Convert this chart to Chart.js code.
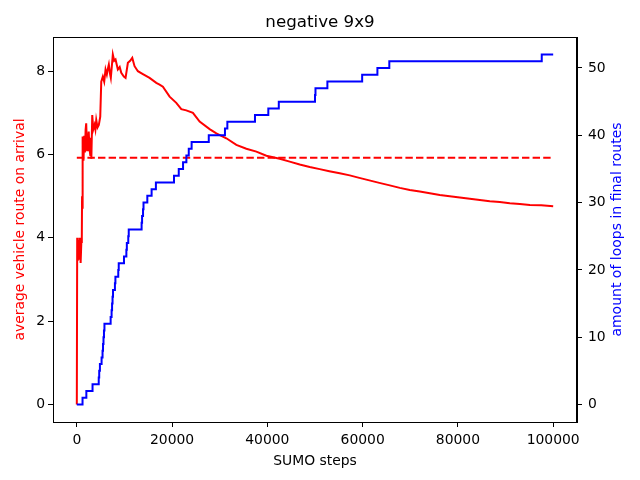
<!DOCTYPE html>
<html>
<head>
<meta charset="utf-8">
<script src="https://cdn.jsdelivr.net/npm/chart.js@4"></script>
<style>
  html, body { margin: 0; padding: 0; background: #fff; }
</style>
</head>
<body>
<canvas id="chart" width="640" height="480"></canvas>
<script>
// red series: average route length on arrival
const redSteps = [0, 80, 200, 350, 500, 650, 800, 950, 1050, 1100, 1180, 1260, 1400, 1550, 1700, 1850, 1970, 2150, 2310, 2500,
    2650, 2820, 2950, 3050, 3240, 3450, 3720, 3900, 4080, 4350, 4620, 4920, 5130, 5460, 5750, 6030, 6300, 6500, 6720, 6950,
    7140, 7560, 7850, 8130, 8610, 9000, 9330, 9870, 10230, 10720, 11200, 11640, 12120, 12820, 13870, 15270, 16680, 17370,
    18070, 19480, 20880, 21930, 22980, 24370, 25780, 27880, 29290, 31390, 33490, 35590, 37690, 39790, 42590, 44690,
    46790, 48890, 50990, 53000, 55190, 57300, 59300, 61400, 63500, 65700, 67800, 69900, 72000, 74100, 76200, 78300, 80400,
    82500, 84600, 86700, 88800, 90900, 93000, 95100, 97500, 100000]
const redValues = [0, 4.0, 3.45, 3.95, 3.5, 4.0, 3.4, 3.9, 4.0, 5.0, 4.7, 6.43, 5.85, 6.45, 6.05, 6.6, 6.75, 6.1, 6.3, 6.55,
    6.15, 5.99, 6.4, 5.9, 6.95, 6.6, 6.71, 6.6, 6.83, 6.65, 6.71, 6.91, 7.75, 7.87, 7.75, 8.04, 7.92, 8.05, 8.16, 7.95,
    7.84, 8.4, 8.25, 8.28, 8.04, 8.1, 7.96, 7.87, 7.84, 8.2, 8.25, 8.32, 8.12, 8.0, 7.93, 7.84, 7.72, 7.68,
    7.63, 7.39, 7.24, 7.09, 7.06, 7.0, 6.79, 6.61, 6.51, 6.39, 6.23, 6.14, 6.07, 5.97, 5.9, 5.83,
    5.76, 5.7, 5.65, 5.6, 5.55, 5.5, 5.44, 5.38, 5.32, 5.26, 5.2, 5.15, 5.11, 5.07, 5.03, 5.0, 4.97,
    4.94, 4.91, 4.88, 4.86, 4.83, 4.81, 4.79, 4.78, 4.76]

// dashed reference level
const meanSteps = [0, 100000]
const meanValues = [5.92, 5.92]

// blue series: loops in final routes (step changes)
const loopSteps = [0, 1200, 2000, 3300, 4600, 4700, 4850, 5200, 5400, 5500, 5600, 5700, 5800, 7100, 7300, 7400, 7500, 7600,
    8000, 8100, 8700, 8800, 9900, 10400, 10500, 10800, 10900, 13600, 13700, 13900, 14000, 14800, 15700, 16600, 20400, 21400,
    22300, 23000, 23500, 24100, 27700, 31100, 31600, 37400, 40200, 42400, 50000, 50100, 52600, 59900, 63100, 65600, 97600, 100000]
const loopCounts = [0, 1, 2, 3, 4, 5, 6, 7, 8, 9, 10, 11, 12, 13, 14, 15, 16, 17,
    18, 19, 20, 21, 22, 23, 24, 25, 26, 27, 28, 29, 30, 31, 32, 33, 34, 35,
    36, 37, 38, 39, 40, 41, 42, 43, 44, 45, 46, 47, 48, 49, 50, 51, 52, 52]

const xTicks = [0, 20000, 40000, 60000, 80000, 100000]
const leftTicks = [0, 2, 4, 6, 8]
const rightTicks = [0, 10, 20, 30, 40, 50]

function pairs(xs, ys) {
    return xs.map((x, i) => ({ x: x, y: ys[i] }))
}

function fixTicks(list) {
    return function (scale) {
        scale.ticks = list.map(v => ({ value: v }))
    }
}

Chart.defaults.font.family = 'DejaVu Sans'
Chart.defaults.color = '#000'

const frame = {
    id: 'frame',
    afterDraw(chart) {
        const ctx = chart.ctx
        const a = chart.chartArea
        ctx.save()
        ctx.strokeStyle = '#000'
        ctx.lineWidth = 1
        ctx.strokeRect(Math.round(a.left) + 0.5, Math.round(a.top) + 0.5,
            Math.round(a.right - a.left) - 1, Math.round(a.bottom - a.top))
        // right axis label, reading bottom to top like the left one
        ctx.translate(617, (a.top + a.bottom) / 2)
        ctx.rotate(-Math.PI / 2)
        ctx.fillStyle = '#0000ff'
        ctx.font = '14px "DejaVu Sans"'
        ctx.textAlign = 'center'
        ctx.textBaseline = 'middle'
        ctx.fillText('amount of loops in final routes', 0, 0)
        ctx.restore()
    }
}

const tickGrid = { drawOnChartArea: false, drawTicks: true, tickLength: 5, tickColor: '#000', tickWidth: 1 }

new Chart(document.getElementById('chart'), {
    type: 'line',
    data: {
        datasets: [
            {
                label: 'loops',
                data: pairs(loopSteps, loopCounts),
                yAxisID: 'y1',
                borderColor: '#0000ff',
                borderWidth: 2,
                stepped: 'before',
                pointRadius: 0,
                fill: false,
                order: 0
            },
            {
                label: 'mean',
                data: pairs(meanSteps, meanValues),
                yAxisID: 'y',
                borderColor: '#ff0000',
                borderWidth: 2,
                borderDash: [7.4, 3.2],
                pointRadius: 0,
                fill: false,
                order: 1
            },
            {
                label: 'route',
                data: pairs(redSteps, redValues),
                yAxisID: 'y',
                borderColor: '#ff0000',
                borderWidth: 2,
                pointRadius: 0,
                tension: 0,
                fill: false,
                order: 2
            }
        ]
    },
    options: {
        responsive: false,
        animation: false,
        devicePixelRatio: 1,
        layout: { padding: 0 },
        plugins: {
            legend: { display: false },
            tooltip: { enabled: false },
            title: {
                display: true,
                text: 'negative 9x9',
                color: '#000',
                font: { size: 16.7, weight: 'normal' },
                padding: { top: 13, bottom: 4 }
            }
        },
        scales: {
            x: {
                type: 'linear',
                min: -5000,
                max: 105000,
                afterBuildTicks: fixTicks(xTicks),
                afterFit(scale) { scale.height = 58 },
                grid: tickGrid,
                border: { color: '#000', width: 1 },
                ticks: { font: { size: 13.9 }, padding: 5, maxRotation: 0, callback: v => String(v) },
                title: { display: true, text: 'SUMO steps', font: { size: 13.9 }, padding: { top: 0, bottom: 10 } }
            },
            y: {
                type: 'linear',
                position: 'left',
                min: -0.42,
                max: 8.82,
                afterBuildTicks: fixTicks(leftTicks),
                afterFit(scale) { scale.width = 53 },
                grid: tickGrid,
                border: { color: '#000', width: 1 },
                ticks: { font: { size: 13.9 }, padding: 3, callback: v => String(v) },
                title: {
                    display: true, text: 'average vehicle route on arrival', color: '#ff0000',
                    font: { size: 13.9 }, padding: { top: 12.5, bottom: 0 }
                }
            },
            y1: {
                type: 'linear',
                position: 'right',
                min: -2.6,
                max: 54.6,
                afterBuildTicks: fixTicks(rightTicks),
                afterFit(scale) { scale.width = 63 },
                grid: tickGrid,
                border: { color: '#000', width: 1 },
                ticks: { font: { size: 13.9 }, padding: 6, callback: v => String(v) }
            }
        }
    },
    plugins: [frame]
})
</script>
</body>
</html>
